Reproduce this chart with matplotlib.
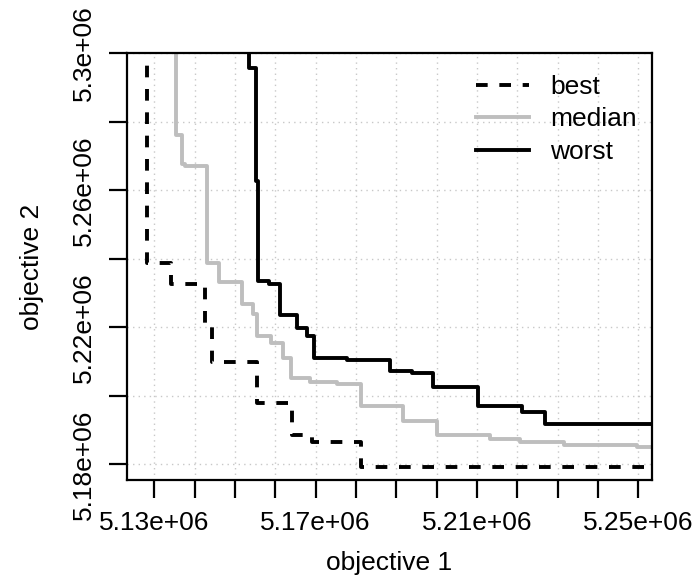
import matplotlib
matplotlib.use("Agg")
import matplotlib.pyplot as plt

plt.rcParams['font.family'] = ['Liberation Sans', 'DejaVu Sans']

# attainment surfaces (objective 1, objective 2)
best_x = [5.12812e6, 5.13407e6, 5.14257e6, 5.14443e6, 5.15547e6, 5.16407e6, 5.16910e6, 5.18125e6]
best_y = [5.23894e6, 5.23255e6, 5.22023e6, 5.20982e6, 5.19789e6, 5.18871e6, 5.18666e6, 5.17933e6]

median_x = [5.13538e6, 5.13687e6, 5.13774e6, 5.14314e6, 5.14617e6, 5.15167e6, 5.15460e6,
            5.15547e6, 5.15894e6, 5.16191e6, 5.16402e6, 5.16861e6, 5.17523e6, 5.18125e6,
            5.19174e6, 5.20017e6, 5.21324e6, 5.22068e6, 5.23159e6, 5.24961e6]
median_y = [5.27610e6, 5.26774e6, 5.26701e6, 5.23894e6, 5.23328e6, 5.22692e6, 5.22405e6,
            5.21745e6, 5.21554e6, 5.21100e6, 5.20528e6, 5.20396e6, 5.20337e6, 5.19707e6,
            5.19252e6, 5.18856e6, 5.18739e6, 5.18666e6, 5.18563e6, 5.18519e6]

worst_x = [5.15356e6, 5.15522e6, 5.15571e6, 5.15844e6, 5.16117e6, 5.16538e6, 5.16786e6,
           5.16960e6, 5.17771e6, 5.18844e6, 5.19382e6, 5.19918e6, 5.21034e6, 5.22110e6,
           5.22688e6]
worst_y = [5.29566e6, 5.26290e6, 5.23343e6, 5.23270e6, 5.22361e6, 5.21994e6, 5.21745e6,
           5.21114e6, 5.21062e6, 5.20733e6, 5.20669e6, 5.20249e6, 5.19692e6, 5.19525e6,
           5.19173e6]

xticks = [5.13e6 + i * 1e4 for i in range(13)]
xtick_labels = ["5.13e+06", "", "", "", "5.17e+06", "", "", "", "5.21e+06", "", "", "", "5.25e+06"]
yticks = [5.18e6 + i * 2e4 for i in range(7)]
ytick_labels = ["5.18e+06", "", "5.22e+06", "", "5.26e+06", "", "5.3e+06"]

xlim = (5.12316e6, 5.25332e6)
ylim = (5.17543e6, 5.30006e6)

fig = plt.figure(figsize=(6.96, 5.79), dpi=100)
ax = fig.add_axes([0.182, 0.171, 0.7543, 0.7370])
ax.set_xlim(*xlim)
ax.set_ylim(*ylim)


def surface(xs, ys):
    # eaf style: vertical drop from the top, stair down, run out to the right
    top = ylim[1] + 1e4
    right = xlim[1] + 1e4
    sx = [xs[0]] + list(xs) + [right]
    sy = [top] + list(ys) + [ys[-1]]
    return sx, sy


ax.grid(True, color="#c8c8c8", linestyle=(0, (1, 3)), linewidth=1.0)
ax.set_axisbelow(True)

sx, sy = surface(best_x, best_y)
ax.step(sx, sy, where="post", color="black", lw=2.8, linestyle=(0, (3, 3)), label="best")
sx, sy = surface(median_x, median_y)
ax.step(sx, sy, where="post", color="#bebebe", lw=2.8, label="median")
sx, sy = surface(worst_x, worst_y)
ax.step(sx, sy, where="post", color="black", lw=2.8, label="worst")

ax.set_xticks(xticks)
ax.set_xticklabels(xtick_labels)
ax.set_yticks(yticks)
ax.set_yticklabels(ytick_labels, rotation=90, va="center")
ax.tick_params(direction="out", length=13, width=1.6, labelsize=19, pad=9)

for s in ax.spines.values():
    s.set_linewidth(1.6)

ax.set_xlabel("objective 1", fontsize=19, labelpad=12)
ax.set_ylabel("objective 2", fontsize=19, labelpad=20)

ax.legend(loc="upper left", bbox_to_anchor=(476 / 696, 1 - 75 / 579),
          bbox_transform=fig.transFigure, frameon=False, fontsize=19,
          borderpad=0, borderaxespad=0, handlelength=2.0, handletextpad=0.8,
          labelspacing=0.32)

fig.savefig("out.png", dpi=100)
